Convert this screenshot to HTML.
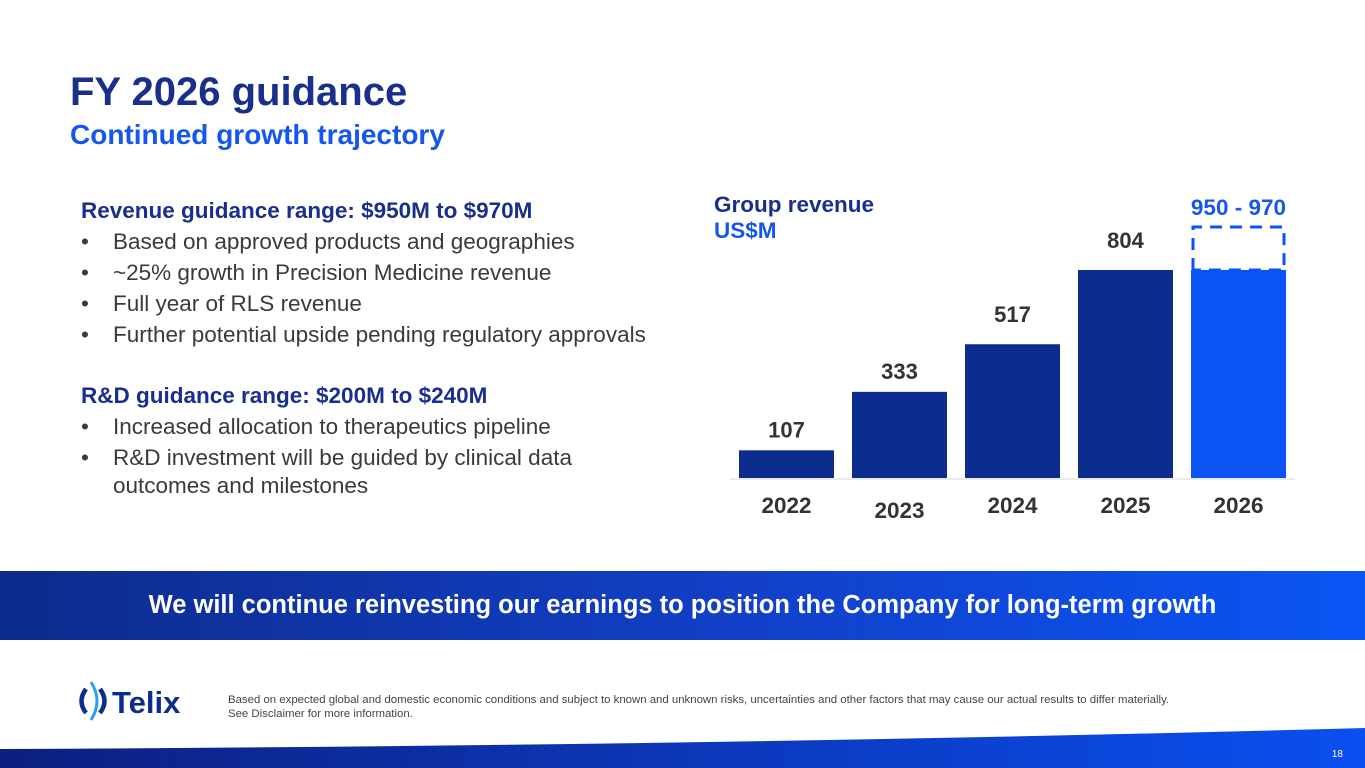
<!DOCTYPE html>
<html><head><meta charset="utf-8"><style>
body{margin:0;width:1365px;height:768px;position:relative;overflow:hidden;background:#fff;font-family:"Liberation Sans",sans-serif}
.abs{position:absolute;white-space:nowrap}
h1{position:absolute;left:70px;top:70px;margin:0;font-size:40px;color:#1a2e8c;font-weight:bold}
h2{position:absolute;left:70px;top:119px;margin:0;font-size:28px;color:#1556ee;font-weight:bold}
.hd{font-size:22.5px;font-weight:bold;color:#1a2e8c}
.bl{font-size:22.5px;color:#3a3a3a}
.bl span{position:absolute;left:0}
.bl b{font-weight:normal;position:absolute;left:32px}
</style></head><body>
<h1>FY 2026 guidance</h1>
<h2>Continued growth trajectory</h2>
<div class="abs hd" style="left:81px;top:198px">Revenue guidance range: $950M to $970M</div>
<div class="abs bl" style="left:81px;top:229px"><span>•</span><b>Based on approved products and geographies</b></div>
<div class="abs bl" style="left:81px;top:260px"><span>•</span><b>~25% growth in Precision Medicine revenue</b></div>
<div class="abs bl" style="left:81px;top:291px"><span>•</span><b>Full year of RLS revenue</b></div>
<div class="abs bl" style="left:81px;top:322px"><span>•</span><b>Further potential upside pending regulatory approvals</b></div>
<div class="abs hd" style="left:81px;top:383px">R&amp;D guidance range: $200M to $240M</div>
<div class="abs bl" style="left:81px;top:414px"><span>•</span><b>Increased allocation to therapeutics pipeline</b></div>
<div class="abs bl" style="left:81px;top:445px"><span>•</span><b>R&amp;D investment will be guided by clinical data</b></div>
<div class="abs bl" style="left:113px;top:473px">outcomes and milestones</div>

<svg class="abs" style="left:0;top:0" width="1365" height="560">
<text x="714" y="212" font-size="22.5" font-weight="bold" fill="#1a2e8c">Group revenue</text>
<text x="714" y="238" font-size="22.5" font-weight="bold" fill="#1556ee">US$M</text>
<line x1="730" y1="479" x2="1295" y2="479" stroke="#e4e4e4" stroke-width="1.5"/>
<g id="bars"></g>
</svg>
<script>
const years=["2022","2023","2024","2025","2026"];
const values=[107,333,517,804,804];
const labels=["107","333","517","804","950 - 970"];
const guidanceHigh=970;
const guideIndex=4;
const y0=478,k=208/804;
function yS(v){return y0-v*k}
function xS(i){return 739+i*113}
const bw=95,ns="http://www.w3.org/2000/svg",g=document.getElementById('bars');
function mk(t,a){const e=document.createElementNS(ns,t);for(const n in a)e.setAttribute(n,a[n]);g.appendChild(e);return e}
years.forEach((yr,i)=>{
 const r=mk('rect',{x:xS(i),y:yS(values[i]),width:bw,height:y0-yS(values[i]),fill:i===guideIndex?'#0a53f5':'#0d2d8e'});
 
 
 const yl=mk('text',{x:xS(i)+bw/2,y:i===1?518:513,'text-anchor':'middle','font-size':22.5,'font-weight':'bold',fill:'#333'});
 yl.textContent=yr;
 
 
 if(i===guideIndex){
  const top=yS(guidanceHigh);
  const d=mk('path',{d:`M${xS(i)+2} ${yS(values[i])} V${top} H${xS(i)+bw-2} V${yS(values[i])} H${xS(i)+2}`,fill:'none',stroke:'#0a53f5','stroke-width':3,'stroke-dasharray':'12 8'});
  
  
  const t=mk('text',{x:xS(i)+bw,y:top-12,'text-anchor':'end','font-size':22.5,'font-weight':'bold',fill:'#1556ee'});
  t.textContent=labels[i];
  
  
 } else {
  const t=mk('text',{x:xS(i)+bw/2,y:yS(values[i])-(i>=2?22:13),'text-anchor':'middle','font-size':22,'font-weight':'bold',fill:'#333'});
  t.textContent=labels[i];
  
  
 }
});
</script>

<div class="abs" style="left:0;top:571px;width:1365px;height:69px;background:linear-gradient(90deg,#0d2b8c 0%,#1240c8 55%,#0a55f5 100%)">
<div style="text-align:center;color:#fff;font-weight:bold;font-size:25.5px;line-height:69px">We will continue reinvesting our earnings to position the Company for long-term growth</div></div>

<div class="abs" style="left:76px;top:680px">
<svg width="110" height="42"><path d="M10 9 Q1 21 10 33" stroke="#0d2d8e" stroke-width="4.5" fill="none"/><path d="M24 9 Q33 21 24 33" stroke="#0d2d8e" stroke-width="4.5" fill="none"/><path d="M15 2 Q27 21 15 40" stroke="#2aa0f0" stroke-width="3" fill="none"/>
<text x="36" y="33" font-size="31" font-weight="bold" fill="#0d2d8e">Telix</text></svg></div>
<div class="abs" style="left:228px;top:693px;font-size:11.4px;color:#444;line-height:14px">Based on expected global and domestic economic conditions and subject to known and unknown risks, uncertainties and other factors that may cause our actual results to differ materially.<br>See Disclaimer for more information.</div>
<svg class="abs" style="left:0;top:720px" width="1365" height="48">
<defs><linearGradient id="fw"><stop offset="0" stop-color="#0d1f80"/><stop offset="1" stop-color="#0a4ff0"/></linearGradient></defs>
<path d="M0 29 Q700 26 1365 8 V48 H0 Z" fill="url(#fw)"/>
<text x="1343" y="37" font-size="10" fill="#fff" text-anchor="end">18</text>
</svg>
</body></html>
